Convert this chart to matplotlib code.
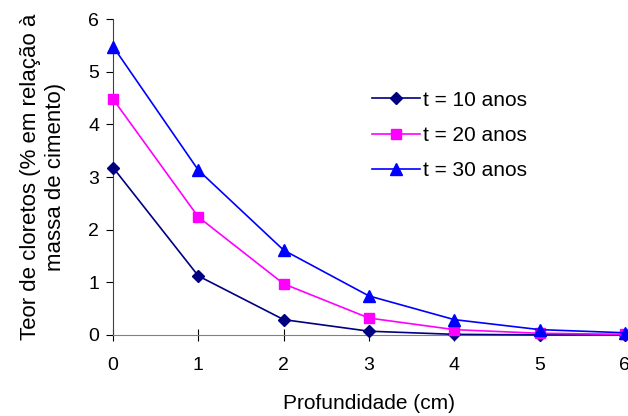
import matplotlib.pyplot as plt

plt.rcParams['font.family'] = ['Liberation Sans', 'DejaVu Sans']

profundidade = [0, 1, 2, 3, 4, 5, 6]
t10 = [3.18, 1.12, 0.29, 0.07, 0.01, 0.0, 0.0]
t20 = [4.48, 2.24, 0.97, 0.32, 0.10, 0.03, 0.01]
t30 = [5.48, 3.13, 1.61, 0.74, 0.29, 0.10, 0.04]
labels = ['t = 10 anos', 't = 20 anos', 't = 30 anos']

fig = plt.figure(figsize=(6.28, 4.16), dpi=100)
ax = fig.add_axes([0.18, 0.195, 0.815, 0.759])

ax.plot(profundidade, t10, color='#000080', marker='D', markersize=6, lw=1.2,
        label=labels[0], clip_on=False, zorder=3)
ax.plot(profundidade, t20, color='#FF00FF', marker='s', markersize=7, lw=1.2,
        label=labels[1], clip_on=False, zorder=3)
ax.plot(profundidade, t30, color='#0000FF', marker='^', markersize=8, lw=1.2,
        label=labels[2], clip_on=False, zorder=3)

ax.set_xlim(0, 6)
ax.set_ylim(0, 6)
ax.set_xticks(range(7))
ax.set_yticks(range(7))
ax.spines['top'].set_visible(False)
ax.spines['right'].set_visible(False)
ax.spines['left'].set_color('#404040')
ax.spines['bottom'].set_color('#808080')
ax.tick_params(axis='x', direction='inout', length=8, labelsize=14, pad=12)
ax.tick_params(axis='y', direction='out', length=5, labelsize=14, pad=5)

ax.set_xlabel('Profundidade (cm)', fontsize=15, labelpad=14)
ax.set_ylabel('Teor de cloretos (% em relação à\nmassa de cimento)', fontsize=16,
              labelpad=16, linespacing=1.25)

ax.legend(loc='upper left', bbox_to_anchor=(0.49, 0.80), frameon=False,
          fontsize=15, handlelength=2.3, handletextpad=0.15, labelspacing=0.78,
          borderaxespad=0)

fig.savefig('out.png', dpi=100)
